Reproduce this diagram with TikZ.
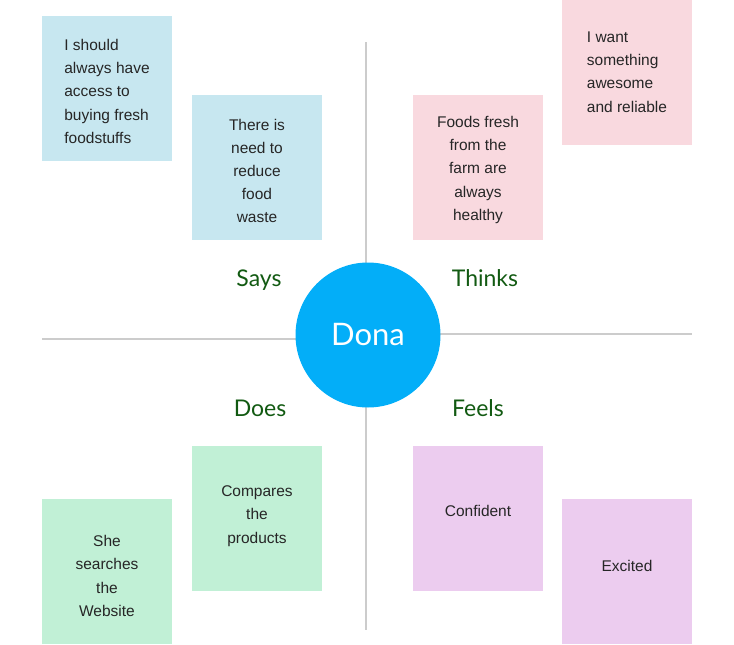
\documentclass[tikz,border=0pt]{standalone}
\usepackage{fontspec}
\setmainfont{Liberation Sans}
\newfontfamily\headfont{Lato}
\usepackage{tikz}
\usetikzlibrary{
    calc,
    positioning,
    shapes.geometric
}
\definecolor{saysblue}{HTML}{C7E7F0}
\definecolor{thinkspink}{HTML}{F9D9DF}
\definecolor{doesgreen}{HTML}{C1F0D6}
\definecolor{feelspurple}{HTML}{ECCCEF}
\definecolor{donablue}{HTML}{03AEF8}
\definecolor{headgreen}{HTML}{125A12}
\definecolor{linegray}{HTML}{CCCCCC}
\definecolor{notetext}{HTML}{262626}
\tikzset{
    every picture/.style = {
        x = 1pt,
        y = -1pt
    },
    note/.style = {
        rectangle,
        minimum width = 130pt,
        minimum height = 145pt,
        inner sep = 0pt,
        text = notetext,
        font = \fontsize{15.5}{23.2}\selectfont
    },
    heading/.style = {
        anchor = base,
        text = headgreen,
        inner sep = 0pt,
        font = \headfont\fontsize{23}{26}\selectfont
    },
    axis/.style = {
        draw = linegray,
        line width = 2pt
    }
}

\begin{document}
\begin{tikzpicture}
    \useasboundingbox (0, 0) rectangle (734, 645);
    \coordinate (top) at (366, 42);
    \coordinate (bottom) at (366, 630);
    \coordinate (left) at (42, 339);
    \coordinate (leftend) at (300, 339);
    \coordinate (rightend) at (436, 334);
    \coordinate (right) at (692, 334);
    \draw[axis] (top) -- (bottom);
    \draw[axis] (left) -- (leftend);
    \draw[axis] (rightend) -- (right);
    \node[circle, fill = donablue, minimum size = 145pt, inner sep = 0pt,
        text = white, font = \headfont\fontsize{31}{33}\selectfont] (dona) at (368, 335) {Dona};
    % says
    \node[note, fill = saysblue, align = left] (says1) at (107, 88) {\rule{0pt}{18pt}I should\\always have\\access to\\buying fresh\\foodstuffs};
    \node[note, fill = saysblue, align = center] (says2) at (257, 167) {\rule{0pt}{19pt}There is\\need to\\reduce\\food\\waste};
    % thinks
    \node[note, fill = thinkspink, align = center] (thinks1) at (478, 167) {\rule{0pt}{17pt}Foods fresh\\from the\\farm are\\always\\healthy};
    \node[note, fill = thinkspink, align = left] (thinks2) at (627, 72) {I want\\something\\awesome\\and reliable};
    % does
    \node[note, fill = doesgreen, align = center] (does1) at (257, 518) {Compares\\the\\products\rule[-7pt]{0pt}{0pt}};
    \node[note, fill = doesgreen, align = center] (does2) at (107, 571) {\rule{0pt}{21pt}She\\searches\\the\\Website};
    % feels
    \node[note, fill = feelspurple, align = center] (feels1) at (478, 518) {Confident\rule[-13.5pt]{0pt}{0pt}};
    \node[note, fill = feelspurple, align = center] (feels2) at (627, 571) {Excited\rule[-9.5pt]{0pt}{0pt}};
    \node[heading] (says) at (259, 286) {Says};
    \node[heading] (thinks) at (485, 286) {Thinks};
    \node[heading] (does) at (260, 416) {Does};
    \node[heading] (feels) at (478, 416) {Feels};
\end{tikzpicture}
\end{document}
